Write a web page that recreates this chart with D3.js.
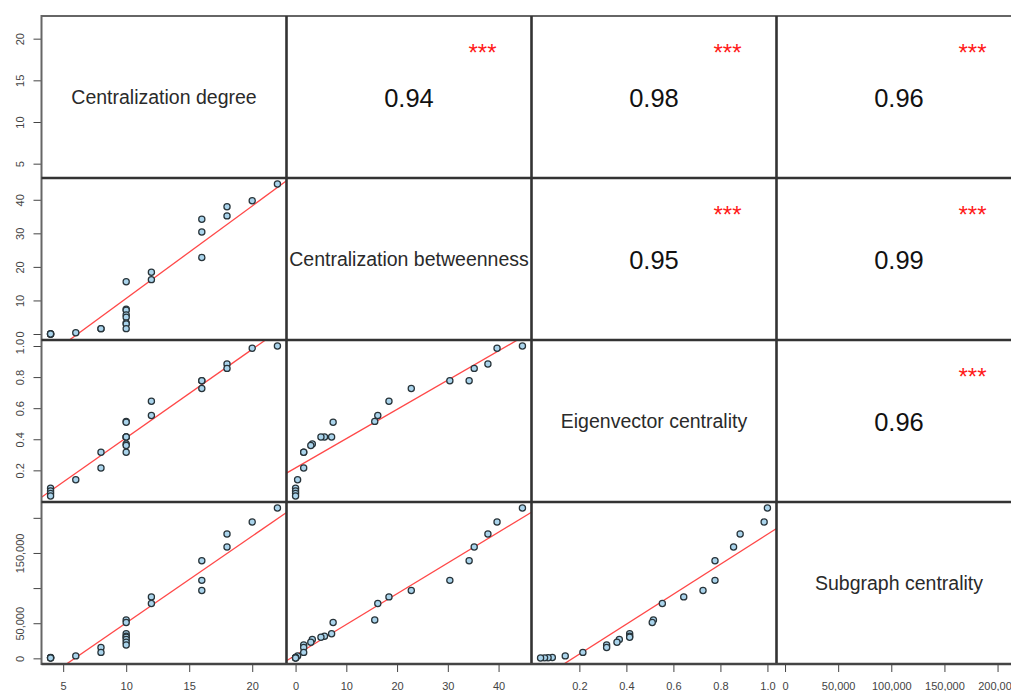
<!DOCTYPE html>
<html><head><meta charset="utf-8">
<script src="https://cdn.jsdelivr.net/npm/d3@7"></script>
<style>body{margin:0;background:#fff} svg{display:block;font-family:"Liberation Sans",Arial,sans-serif}</style>
</head><body><svg id="c" width="1011" height="691"></svg>
<script>
const varNames = ["Centralization degree","Centralization betweenness","Eigenvector centrality","Subgraph centrality"];
const degree = [22,20,18,18,16,16,16,12,12,10,10,10,10,10,10,10,10,8,8,6,4,4,4,4];
const betweenness = [44.7,39.7,37.9,35.2,34.2,30.4,22.8,18.4,16.2,15.6,7.4,7.1,5.7,5.0,3.3,3.0,1.6,1.6,1.6,0.4,0,0,0,0];
const eigenvector = [1.00,0.986,0.884,0.856,0.777,0.777,0.726,0.644,0.553,0.515,0.51,0.414,0.414,0.414,0.37,0.36,0.316,0.316,0.215,0.14,0.085,0.067,0.052,0.035];
const subgraph = [214000,194000,177000,158500,139000,111000,96500,87500,78000,54500,51000,35000,31500,30000,27000,23000,19000,15500,8500,3500,1200,900,700,500];

const corrPairs = [[0,1],[0,2],[0,3],[1,2],[1,3],[2,3]];
const corrValues = ["0.94","0.98","0.96","0.95","0.99","0.96"];
const corrStars = ["***","***","***","***","***","***"];

const degreeTicks = [5,10,15,20];
const betweennessTicks = [0,10,20,30,40];
const eigenTicks = [0.2,0.4,0.6,0.8,1.0];
const subgraphTicks = [0,50000,100000,150000,200000];
const subgraphLeftLabels = [0,50000,150000];

const vars = [degree, betweenness, eigenvector, subgraph];
const ticks = [degreeTicks, betweennessTicks, eigenTicks, subgraphTicks];
const fmts = [d3.format("d"), d3.format("d"), d3.format(".1f"), d3.format(",")];

const X0 = 41.5, Y0 = 16, W = 245, H = 162, N = 4;
const svg = d3.select("#c");
const defs = svg.append("defs");

const xs = [], ys = [];
vars.forEach((v,i)=>{
  const [mn,mx] = d3.extent(v); const r = mx-mn;
  xs.push(d3.scaleLinear().domain([mn-0.04*r, mx+0.04*r]).range([X0+i*W, X0+(i+1)*W]));
  ys.push(d3.scaleLinear().domain([mn-0.04*r, mx+0.04*r]).range([Y0+(i+1)*H, Y0+i*H]));
});

function fit(x,y){
  const mx=d3.mean(x), my=d3.mean(y);
  let sxy=0,sxx=0; x.forEach((xi,k)=>{sxy+=(xi-mx)*(y[k]-my); sxx+=(xi-mx)*(xi-mx);});
  const b=sxy/sxx; return {a:my-b*mx,b};
}

for(let r=0;r<N;r++){
  for(let c=0;c<N;c++){
    const px = X0+c*W, py = Y0+r*H;
    const id = `clip${r}${c}`;
    defs.append("clipPath").attr("id",id).append("rect").attr("x",px).attr("y",py).attr("width",W).attr("height",H);
    const g = svg.append("g");
    if(r===c){
      g.append("text").attr("x",px+W/2).attr("y",py+H/2+7).attr("text-anchor","middle")
        .attr("font-size",19.5).attr("fill","#2a2a2a").text(varNames[r]);
    } else if(r>c){
      const gx = g.append("g").attr("clip-path",`url(#${id})`);
      const xv = vars[c], yv = vars[r];
      const f = fit(xv,yv);
      const [d0,d1] = xs[c].domain();
      gx.append("line").attr("x1",xs[c](d0)).attr("x2",xs[c](d1))
        .attr("y1",ys[r](f.a+f.b*d0)).attr("y2",ys[r](f.a+f.b*d1))
        .attr("stroke","#ff4848").attr("stroke-width",1.3);
      gx.selectAll("circle").data(d3.range(xv.length)).join("circle")
        .attr("cx",k=>xs[c](xv[k])).attr("cy",k=>ys[r](yv[k])).attr("r",3.1)
        .attr("fill","#aad4ec").attr("stroke","#28343a").attr("stroke-width",1.25);
    } else {
      const k = corrPairs.findIndex(p=>p[0]===r&&p[1]===c);
      g.append("text").attr("x",px+W/2).attr("y",py+H/2+10).attr("text-anchor","middle")
        .attr("font-size",25.5).attr("fill","#111").text(corrValues[k]);
      g.append("text").attr("x",px+W*0.8).attr("y",py+45).attr("text-anchor","middle")
        .attr("font-size",24).attr("fill","#ff1a1a").text(corrStars[k]);
    }
  }
}

// left axes
for(let r=0;r<N;r++){
  const ax = d3.axisLeft(ys[r]).tickValues(ticks[r]).tickSize(8)
    .tickFormat(d=> (r===3 && !subgraphLeftLabels.includes(d)) ? "" : fmts[r](d));
  const g = svg.append("g").attr("transform",`translate(${X0},0)`).call(ax);
  g.select(".domain").remove();
  g.selectAll(".tick line").attr("stroke","#444");
  g.selectAll(".tick text").attr("transform","rotate(-90)").attr("x",0).attr("y",-17.5).attr("dy",0)
    .attr("text-anchor","middle").attr("font-size",11).attr("fill","#444")
    .attr("font-family","'Liberation Sans',Arial,sans-serif");
}
// bottom axes
for(let c=0;c<N;c++){
  const ax = d3.axisBottom(xs[c]).tickValues(ticks[c]).tickSize(8).tickFormat(fmts[c]);
  const g = svg.append("g").attr("transform",`translate(0,${Y0+N*H})`).call(ax);
  g.select(".domain").remove();
  g.selectAll(".tick line").attr("stroke","#444");
  g.selectAll(".tick text").attr("y",26).attr("dy",0).attr("font-size",11).attr("fill","#444")
    .attr("font-family","'Liberation Sans',Arial,sans-serif");
}

// borders
svg.append("rect").attr("x",X0).attr("y",Y0).attr("width",N*W).attr("height",N*H)
  .attr("fill","none").attr("stroke","#666").attr("stroke-width",2);
for(let i=1;i<N;i++){
  svg.append("line").attr("x1",X0+i*W).attr("x2",X0+i*W).attr("y1",Y0).attr("y2",Y0+N*H)
    .attr("stroke","#333").attr("stroke-width",2.6);
  svg.append("line").attr("y1",Y0+i*H).attr("y2",Y0+i*H).attr("x1",X0).attr("x2",X0+N*W)
    .attr("stroke","#333").attr("stroke-width",2.6);
}
svg.append("line").attr("x1",X0).attr("x2",X0+N*W).attr("y1",Y0+N*H).attr("y2",Y0+N*H)
  .attr("stroke","#444").attr("stroke-width",2.4);
</script></body></html>
